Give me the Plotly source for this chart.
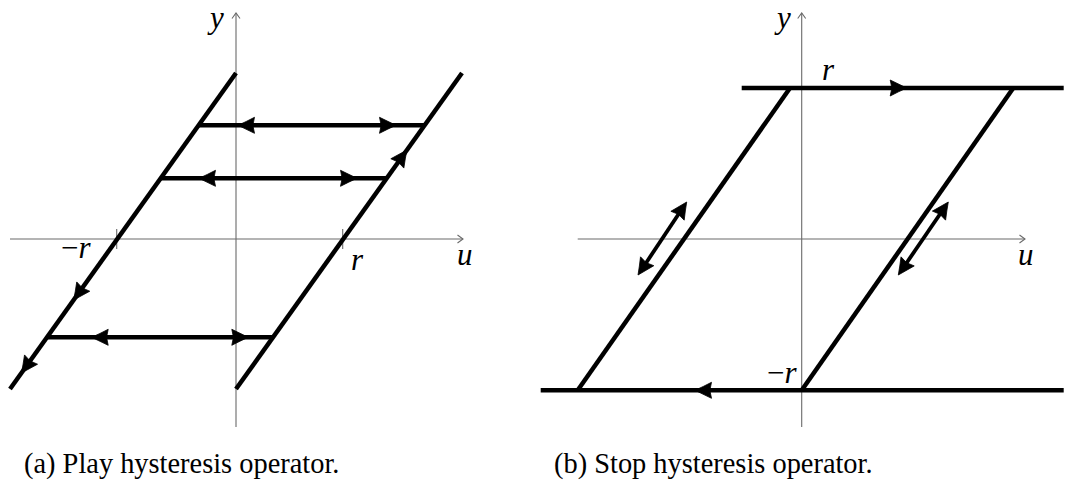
import numpy as np
import plotly.graph_objects as go

W, H = 1067, 483
S = 100.0                      # pixels per data unit (same on both axes)
SPLIT = 533.5                  # pixel column where panel (b) begins
A_ORIGIN = (236.0, 239.0)      # pixel position of (0, 0) in panel (a)
B_ORIGIN = (801.7, 239.0)      # pixel position of (0, 0) in panel (b)

# ---------------- panel (a): play operator ----------------
a_u_axis = [-2.26, 2.27]
a_y_axis = [-1.88, 2.26]
a_left_u = [0.0, -2.26]
a_left_y = [1.66, -1.50]
a_right_u = [2.26, 0.0]
a_right_y = [1.66, -1.50]
a_levels = [1.137, 0.607, -0.983]
a_level_left_tips = [0.02, -0.37, -1.443]
a_level_right_tips = [1.60, 1.21, 0.123]
a_ticks = [-1.193, 1.067]
a_tick_text = ["\u2212<i>r</i>", "<i>r</i>"]
a_up_tips_y = [0.89]           # on the right branch
a_down_tips_y = [-0.61, -1.34]  # on the left branch

# ---------------- panel (b): stop operator ----------------
b_u_axis = [-2.24, 2.233]
b_y_axis = [-1.88, 2.26]
b_top_u = [-0.60, 2.62]
b_top_y = 1.51
b_bot_u = [-2.61, 2.62]
b_bot_y = -1.513
b_left_u = [-0.117, -2.24]
b_left_y = [1.51, -1.513]
b_right_u = [2.116, 0.0]
b_right_y = [1.51, -1.513]
b_top_tip = 1.05
b_bot_tip = -1.067
b_double_u = [[-1.15, -1.637], [1.466, 0.966]]
b_double_y = [[0.37, -0.36], [0.37, -0.36]]

captions = ["(a) Play hysteresis operator.", "(b) Stop hysteresis operator."]

INK = "black"
AXIS = "#6a6a6a"
LW = 4.5
SERIF = "Liberation Serif"

fig = go.Figure()


def line(xs, ys, ax, width=LW, color=INK):
    fig.add_trace(go.Scatter(x=xs, y=ys, mode="lines", xaxis=ax[0], yaxis=ax[1],
                             line=dict(color=color, width=width),
                             hoverinfo="skip", showlegend=False))


def head(tip, direction, ax, length=16.5, half=8.0):
    """Filled LaTeX-style arrowhead with its tip at `tip`."""
    d = np.asarray(direction, float)
    d = d / np.linalg.norm(d)
    n = np.array([-d[1], d[0]])
    t = np.asarray(tip, float)
    L, w = length / S, half / S
    pts = [t,
           t - 0.5 * L * d + 0.48 * w * n,
           t - L * d + w * n,
           t - 0.9 * L * d,
           t - L * d - w * n,
           t - 0.5 * L * d - 0.48 * w * n,
           t]
    pts = np.array(pts)
    fig.add_trace(go.Scatter(x=pts[:, 0], y=pts[:, 1], mode="lines", fill="toself",
                             fillcolor=INK, line=dict(color=INK, width=0.8),
                             xaxis=ax[0], yaxis=ax[1], hoverinfo="skip", showlegend=False))


def to_tip(tip, direction, ax):
    """Thin open arrow tip for the coordinate axes."""
    d = np.asarray(direction, float)
    d = d / np.linalg.norm(d)
    n = np.array([-d[1], d[0]])
    t = np.asarray(tip, float)
    L, w = 5.5 / S, 4.0 / S
    p1 = t - L * d + w * n
    p2 = t - L * d - w * n
    line([p1[0], t[0], p2[0]], [p1[1], t[1], p2[1]], ax, width=1.1, color=AXIS)


def axes(u_rng, y_rng, ax):
    line(u_rng, [0, 0], ax, width=1.1, color=AXIS)
    line([0, 0], y_rng, ax, width=1.1, color=AXIS)
    to_tip((u_rng[1], 0), (1, 0), ax)
    to_tip((0, y_rng[1]), (0, 1), ax)


A = ("x", "y")
B = ("x2", "y2")

# panel (a)
axes(a_u_axis, a_y_axis, A)
for tx in a_ticks:
    line([tx, tx], [-0.1, 0.1], A, width=1.1, color=AXIS)
line(a_left_u, a_left_y, A)
line(a_right_u, a_right_y, A)
la = (a_left_u[0] - a_left_u[1]) / (a_left_y[0] - a_left_y[1])   # du/dy of the branches
for lev, lt, rt in zip(a_levels, a_level_left_tips, a_level_right_tips):
    u0 = a_left_u[1] + (lev - a_left_y[1]) * la
    u1 = a_right_u[1] + (lev - a_right_y[1]) * la
    line([u0, u1], [lev, lev], A)
    head((lt, lev), (-1, 0), A)
    head((rt, lev), (1, 0), A)
dir_a = (a_left_u[0] - a_left_u[1], a_left_y[0] - a_left_y[1])
for yt in a_up_tips_y:
    head((a_right_u[1] + (yt - a_right_y[1]) * la, yt), dir_a, A)
for yt in a_down_tips_y:
    head((a_left_u[1] + (yt - a_left_y[1]) * la, yt), (-dir_a[0], -dir_a[1]), A)

# panel (b)
axes(b_u_axis, b_y_axis, B)
line(b_top_u, [b_top_y, b_top_y], B)
line(b_bot_u, [b_bot_y, b_bot_y], B)
line(b_left_u, b_left_y, B)
line(b_right_u, b_right_y, B)
head((b_top_tip, b_top_y), (1, 0), B)
head((b_bot_tip, b_bot_y), (-1, 0), B)
for us, ys in zip(b_double_u, b_double_y):
    d = (us[0] - us[1], ys[0] - ys[1])
    k = 10.0 / S / np.hypot(*d)
    line([us[0] - d[0] * k, us[1] + d[0] * k], [ys[0] - d[1] * k, ys[1] + d[1] * k], B, width=3.8)
    head((us[0], ys[0]), d, B)
    head((us[1], ys[1]), (-d[0], -d[1]), B)

# text labels
labels = [
    ("x", "y", -0.21, 2.215, "<i>y</i>"),
    ("x", "y", 2.285, -0.15, "<i>u</i>"),
    ("x", "y", -1.60, -0.08, a_tick_text[0]),
    ("x", "y", 1.21, -0.20, a_tick_text[1]),
    ("x2", "y2", -0.197, 2.215, "<i>y</i>"),
    ("x2", "y2", 2.238, -0.15, "<i>u</i>"),
    ("x2", "y2", 0.268, 1.70, "<i>r</i>"),
    ("x2", "y2", -0.202, -1.33, "\u2212<i>r</i>"),
]
ann = []
for xr, yr, ux, uy, txt in labels:
    ann.append(dict(x=ux, y=uy, xref=xr, yref=yr, text=txt, showarrow=False,
                    xanchor="center", yanchor="middle",
                    font=dict(family=SERIF, size=31, color=INK)))
for xpx, cap in zip([22, 552], captions):
    ann.append(dict(x=xpx / W, y=1 - 464 / H, xref="paper", yref="paper", text=cap,
                    showarrow=False, xanchor="left", yanchor="middle",
                    font=dict(family=SERIF, size=28.4, color=INK)))


def rng(px0, px1, origin):
    return [(px0 - origin) / S, (px1 - origin) / S]


yr = [-(H - A_ORIGIN[1]) / S, A_ORIGIN[1] / S]
ax_common = dict(visible=False, showgrid=False, zeroline=False, fixedrange=True)
fig.update_layout(
    width=W, height=H, margin=dict(l=0, r=0, t=0, b=0),
    paper_bgcolor="white", plot_bgcolor="white",
    xaxis=dict(domain=[0, SPLIT / W], range=rng(0, SPLIT, A_ORIGIN[0]), **ax_common),
    yaxis=dict(domain=[0, 1], range=yr, **ax_common),
    xaxis2=dict(domain=[SPLIT / W, 1], range=rng(SPLIT, W, B_ORIGIN[0]), anchor="y2", **ax_common),
    yaxis2=dict(domain=[0, 1], range=yr, anchor="x2", **ax_common),
    annotations=ann,
    showlegend=False,
)

fig.write_html("out.html")
